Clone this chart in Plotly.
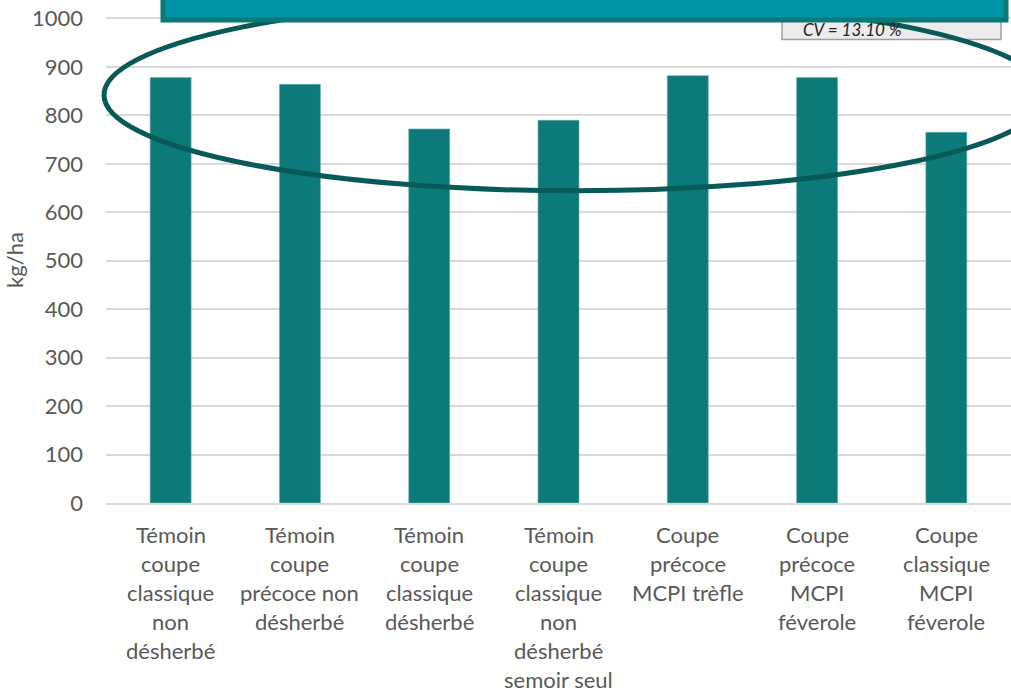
import plotly.graph_objects as go

# data
categories = [
    "Témoin<br>coupe<br>classique<br>non<br>désherbé",
    "Témoin<br>coupe<br>précoce non<br>désherbé",
    "Témoin<br>coupe<br>classique<br>désherbé",
    "Témoin<br>coupe<br>classique<br>non<br>désherbé<br>semoir seul",
    "Coupe<br>précoce<br>MCPI trèfle",
    "Coupe<br>précoce<br>MCPI<br>féverole",
    "Coupe<br>classique<br>MCPI<br>féverole",
]
rendement = [878, 864, 772, 790, 882, 878, 765]
y_ticks = [0, 100, 200, 300, 400, 500, 600, 700, 800, 900, 1000]
cv_text = "CV = 13.10 %"

FONT = "Lato, Open Sans, sans-serif"
GREY = "#595959"

# plot area in page pixels
L, R, T, B = 106, 1011, 16.5, 503


def px(x):
    return (x - L) / (R - L)


def py(y):
    return (B - y) / (B - T)


fig = go.Figure()
fig.add_trace(go.Bar(
    x=categories,
    y=rendement,
    marker=dict(color="#0b7a78", line=dict(color="#6fb0ae", width=0.6)),
    showlegend=False,
))

# x labels as stacked lines (Excel-like line spacing)
for cat in categories:
    for i, line in enumerate(cat.split("<br>")):
        fig.add_annotation(
            x=cat, y=0, xref="x", yref="paper",
            text=line, showarrow=False,
            yanchor="middle", yshift=-31 - i * 29,
            font=dict(family=FONT, size=22, color=GREY),
        )

# CV box
fig.add_shape(type="rect", xref="paper", yref="paper",
              x0=px(782), x1=px(1001), y0=py(39), y1=py(10),
              fillcolor="#ececec", line=dict(color="#a0a0a0", width=1.5))
fig.add_annotation(x=px(801), y=py(29.5),
                   xref="paper", yref="paper", xanchor="left", yanchor="middle",
                   text=cv_text, showarrow=False,
                   font=dict(family=FONT, size=17, color="#222222", style="italic"))

# highlight ellipse
fig.add_shape(type="circle", xref="paper", yref="paper", layer="above",
              x0=px(104), x1=px(1046), y0=py(190.5), y1=py(-1.5),
              line=dict(color="#075a58", width=5))

# title banner (mostly off the top of the picture)
fig.add_shape(type="rect", xref="paper", yref="paper", layer="above",
              x0=px(163), x1=px(1006), y0=py(19.5), y1=py(-40),
              fillcolor="#0095a8", line=dict(color="#0b7876", width=5))

fig.update_layout(
    width=1011, height=693,
    margin=dict(l=L, r=1011 - R, t=T, b=693 - B),
    paper_bgcolor="white", plot_bgcolor="white",
    bargap=0.683,
    font=dict(family=FONT, size=22, color=GREY),
    xaxis=dict(showticklabels=False, showgrid=False, showline=True,
               linecolor="#d9d9d9", linewidth=1.5, zeroline=False),
    yaxis=dict(range=[0, 1003], tickvals=y_ticks, showgrid=True,
               gridcolor="#d9d9d9", gridwidth=1.5, zeroline=False,
               ticklabelstandoff=22, ticklabeloverflow="allow",
               tickfont=dict(family=FONT, size=22, color=GREY),
               title=dict(text="kg/ha", standoff=2,
                          font=dict(family=FONT, size=22, color=GREY))),
)

fig.write_html("out.html", config={"displayModeBar": False},
               post_script="document.body.style.margin = '0';")
